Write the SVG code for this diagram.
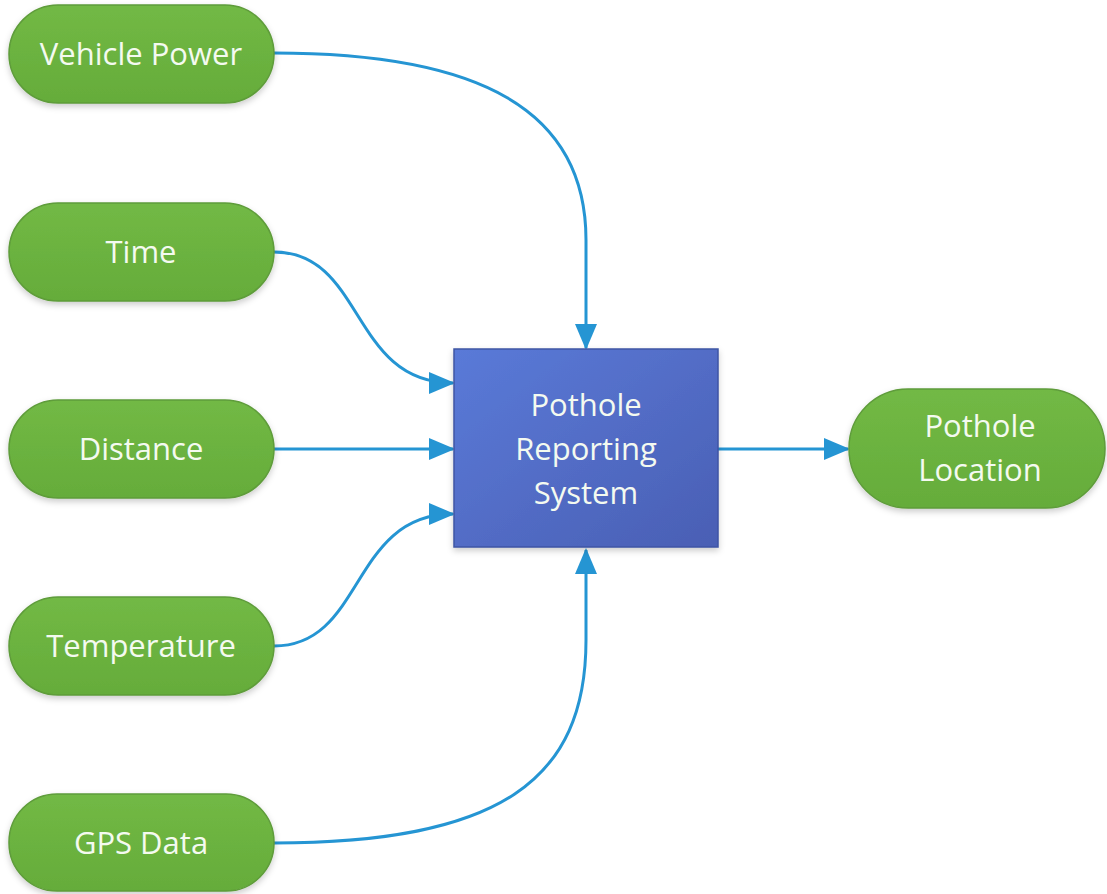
<svg xmlns="http://www.w3.org/2000/svg" width="1107" height="894" viewBox="0 0 1107 894">
<defs>
<linearGradient id="gg" x1="0" y1="0" x2="0" y2="1"><stop offset="0" stop-color="#72b945"/><stop offset="1" stop-color="#65ac3a"/></linearGradient>
<linearGradient id="bg" x1="0" y1="0" x2="1" y2="1"><stop offset="0" stop-color="#5a7ad8"/><stop offset="1" stop-color="#4a5fb4"/></linearGradient>
<filter id="sh" x="-10%" y="-10%" width="120%" height="130%"><feDropShadow dx="0" dy="3" stdDeviation="3" flood-color="#000" flood-opacity="0.2"/></filter>
<marker id="ah" markerUnits="userSpaceOnUse" markerWidth="26" markerHeight="26" viewBox="0 0 26 26" refX="24" refY="13" orient="auto"><path d="M0,2 L26,13 L0,24 Z" fill="#2595d3"/></marker>
<style>
.pill{fill:url(#gg);stroke:#5e9c3a;stroke-width:1.5;filter:url(#sh)}
.box{fill:url(#bg);stroke:#3f55a4;stroke-width:1.5;filter:url(#sh)}
.t{font-family:"Open Sans","Noto Sans",sans-serif;font-size:31px;fill:#f4faf0;text-anchor:middle}
.c{fill:none;stroke:#2595d3;stroke-width:3;marker-end:url(#ah)}
</style>
</defs>
<g id="connectors">
<path class="c" d="M274,53 C480,53 586,110 586,240 L586,348"/>
<path class="c" d="M274,252 C365,252 350,383 453,383"/>
<path class="c" d="M274,449 L453,449"/>
<path class="c" d="M274,646 C365,646 350,514 453,514"/>
<path class="c" d="M274,843 C500,843 586,780 586,640 L586,550"/>
<path class="c" d="M718,449 L848,449"/>
</g>
<g id="vehicle-power"><rect class="pill" x="9" y="5" width="265" height="98" rx="49"/><text class="t" x="141" y="65">Vehicle Power</text></g>
<g id="time"><rect class="pill" x="9" y="203" width="265" height="98" rx="49"/><text class="t" x="141" y="263">Time</text></g>
<g id="distance"><rect class="pill" x="9" y="400" width="265" height="98" rx="49"/><text class="t" x="141" y="460">Distance</text></g>
<g id="temperature"><rect class="pill" x="9" y="597" width="265" height="98" rx="49"/><text class="t" x="141" y="657">Temperature</text></g>
<g id="gps-data"><rect class="pill" x="9" y="794" width="265" height="97" rx="48"/><text class="t" x="141" y="854">GPS Data</text></g>
<g id="system"><rect class="box" x="454" y="349" width="264" height="198"/><text class="t" x="586" y="416">Pothole</text><text class="t" x="586" y="460">Reporting</text><text class="t" x="586" y="504">System</text></g>
<g id="pothole-location"><rect class="pill" x="849" y="389" width="256" height="119" rx="59"/><text class="t" x="980" y="437">Pothole</text><text class="t" x="980" y="481">Location</text></g>
</svg>
